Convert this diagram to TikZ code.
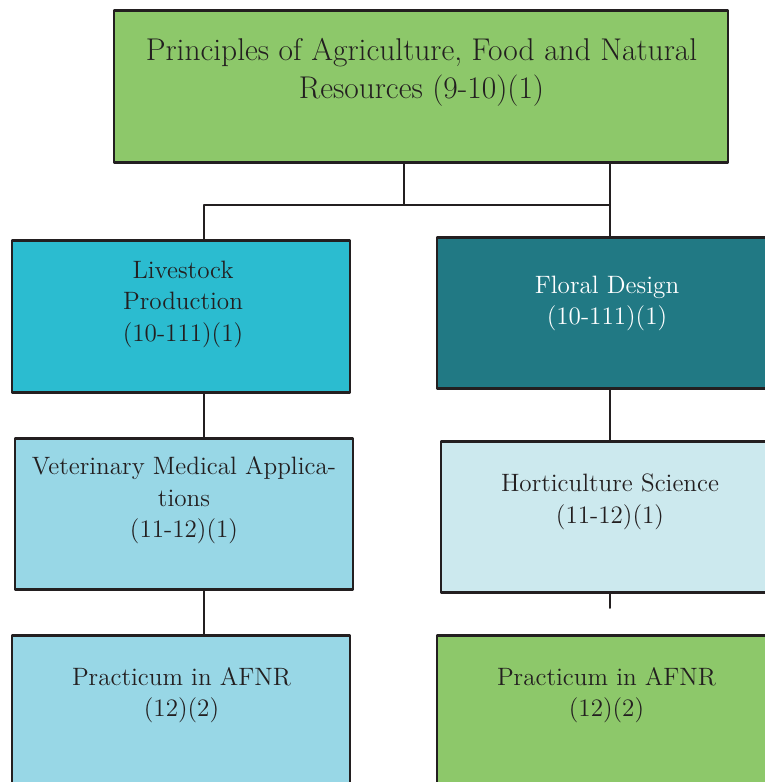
\documentclass[tikz,border=0pt]{standalone}
\usepackage{tikz}
\definecolor{edge}{RGB}{35,31,32}
\definecolor{agGreen}{RGB}{141,200,106}
\definecolor{stockCyan}{RGB}{43,188,208}
\definecolor{floralTeal}{RGB}{33,121,132}
\definecolor{vetBlue}{RGB}{152,215,230}
\definecolor{hortPale}{RGB}{204,233,238}

\begin{document}
\begin{tikzpicture}[line cap=round,line join=round,x=0.02cm,y=-0.02cm,
  box/.style={draw=edge,line width=1.6pt,rectangle,inner sep=0pt,minimum width=6.76cm,minimum height=3.03cm},
  txt/.style={text=edge,align=center,inner sep=0pt,font=\fontsize{14.3}{17.9}\selectfont},
  wire/.style={draw=edge,line width=1.1pt}]
\useasboundingbox (0,0) rectangle (765,782);
\clip (0,0) rectangle (765,782);
\node[box,fill=agGreen,minimum width=12.28cm] (top) at (421,86.5) {};
\node[box,fill=stockCyan] (livestock) at (181,316.5) {};
\node[box,fill=floralTeal] (floral) at (606,313) {};
\node[box,fill=vetBlue] (vet) at (184,514) {};
\node[box,fill=hortPale] (hort) at (610,517) {};
\node[box,fill=vetBlue] (pracL) at (181,711) {};
\node[box,fill=agGreen] (pracR) at (606,711) {};
\node[txt,font=\fontsize{17.9}{21.6}\selectfont] (topText) at (421.5,72) {Principles of Agriculture, Food and Natural\\Resources (9-10)(1)};
\node[txt] (livestockText) at (183,304) {Livestock\\Production\\(10-111)(1)};
\node[txt,text=white] (floralText) at (607,303.5) {Floral Design\\ (10-111)(1)};
\node[txt] (vetText) at (184,500.5) {Veterinary Medical Applica-\\tions\\(11-12)(1)};
\node[txt] (hortText) at (610,502) {Horticulture Science\\(11-12)(1)};
\node[txt] (pracLText) at (181.5,695) {Practicum in AFNR\\(12)(2)};
\node[txt] (pracRText) at (606.5,695) {Practicum in AFNR\\(12)(2)};
\coordinate (bus) at (404,205);
\coordinate (lx) at (204,205);
\coordinate (rx) at (610,205);
\coordinate (stub) at (610,608);
\draw[wire] (top.south -| bus) -- (bus);
\draw[wire] (lx |- livestock.north) -- (lx) -- (rx);
\draw[wire] (top.south -| rx) -- (rx |- floral.north);
\draw[wire] (lx |- livestock.south) -- (lx |- vet.north);
\draw[wire] (rx |- floral.south) -- (rx |- hort.north);
\draw[wire] (lx |- vet.south) -- (lx |- pracL.north);
\draw[wire] (rx |- hort.south) -- (stub);
\end{tikzpicture}
\end{document}
